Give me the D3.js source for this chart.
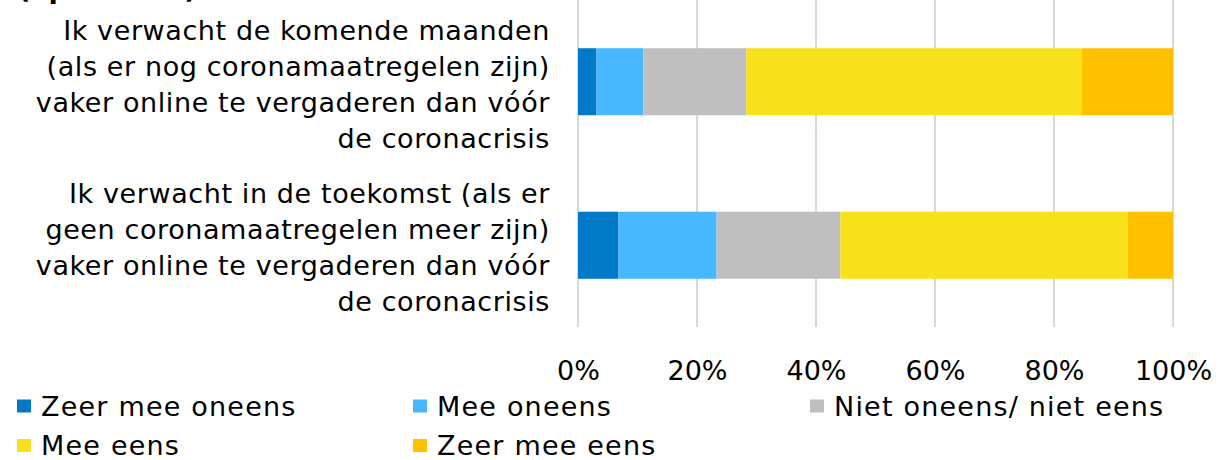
<!DOCTYPE html>
<html><head><meta charset="utf-8">
<script src="https://cdn.jsdelivr.net/npm/d3@7"></script>
<style>body{margin:0;background:#fff}svg{display:block}</style>
</head><body>
<svg id="chart" width="1222" height="460"></svg>
<script>
const categories = [
  ["Ik verwacht de komende maanden","(als er nog coronamaatregelen zijn)","vaker online te vergaderen dan vóór","de coronacrisis"],
  ["Ik verwacht in de toekomst (als er","geen coronamaatregelen meer zijn)","vaker online te vergaderen dan vóór","de coronacrisis"]
];
const seriesNames = ["Zeer mee oneens","Mee oneens","Niet oneens/ niet eens","Mee eens","Zeer mee eens"];
const seriesColors = ["#007AC7","#47B8FF","#BFBFBF","#F8E11B","#FFC000"];
const valuesZeerMeeOneens = [3.1, 6.8];
const valuesMeeOneens = [7.9, 16.5];
const valuesNeutraal = [17.3, 20.8];
const valuesMeeEens = [56.3, 48.3];
const valuesZeerMeeEens = [15.4, 7.6];
const tickValues = [0, 20, 40, 60, 80, 100];
const titleText = "(april 2021)";

const svg = d3.select("#chart");
const font = "'DejaVu Sans', Verdana, sans-serif";
const fs = 27;
const x = d3.scaleLinear().domain([0,100]).range([578,1173]);
const y = d3.scaleBand().domain([0,1]).range([0,327]).paddingInner(0.59).paddingOuter(0.295);

// clipped title (only its lowest part is visible, as in the reference)
svg.append("text").attr("x",18).attr("y",-2).attr("font-family",font).attr("font-weight","bold")
  .attr("font-size",fs).attr("fill","#000").text(titleText);

// gridlines
svg.append("g").selectAll("line").data(tickValues).join("line")
  .attr("x1",d=>x(d)).attr("x2",d=>x(d)).attr("y1",0).attr("y2",327)
  .attr("stroke","#D9D9D9").attr("stroke-width",2);

const all = [valuesZeerMeeOneens,valuesMeeOneens,valuesNeutraal,valuesMeeEens,valuesZeerMeeEens];
const rows = categories.map((c,i)=>{const o={i}; seriesNames.forEach((s,k)=>o[s]=all[k][i]); return o;});
const stack = d3.stack().keys(seriesNames)(rows);
svg.append("g").selectAll("g").data(stack).join("g")
  .attr("fill",(d,k)=>seriesColors[k])
  .selectAll("rect").data(d=>d).join("rect")
  .attr("x",d=>x(d[0])).attr("width",d=>x(d[1])-x(d[0]))
  .attr("y",d=>y(d.data.i)).attr("height",y.bandwidth());

// category labels
const lh = 36;
categories.forEach((lines,i)=>{
  const cy = y(i)+y.bandwidth()/2 + 2.5;
  const t = svg.append("text").attr("font-family",font).attr("font-size",fs).attr("fill","#000")
    .attr("text-anchor","end").attr("letter-spacing",0.6);
  lines.forEach((l,j)=>{
    t.append("tspan").attr("x",550).attr("y",cy + (j-(lines.length-1)/2)*lh).attr("dy","0.35em").text(l);
  });
});

// x axis
const ax = svg.append("g").attr("transform","translate(0,358)")
  .call(d3.axisBottom(x).tickValues(tickValues).tickFormat(d=>d+"%").tickSize(0));
ax.select(".domain").remove();
ax.selectAll("text").attr("font-family",font).attr("font-size",fs).attr("fill","#000");

// legend
const legendPos = [[17,406.5],[413,406.5],[810,406.5],[17,446],[413,446]];
const lg = svg.append("g").selectAll("g").data(seriesNames).join("g")
  .attr("transform",(d,k)=>`translate(${legendPos[k][0]},${legendPos[k][1]})`);
lg.append("rect").attr("x",0).attr("y",-7).attr("width",14).attr("height",13).attr("fill",(d,k)=>seriesColors[k]);
lg.append("text").attr("x",24).attr("y",0).attr("dy","0.35em").attr("font-family",font).attr("font-size",fs)
  .attr("letter-spacing",1.2).attr("fill","#000").text(d=>d);
</script>
</body></html>
